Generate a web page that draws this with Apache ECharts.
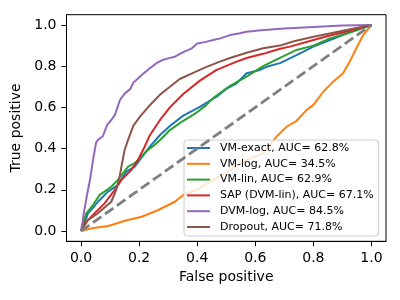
<!DOCTYPE html>
<html>
<head>
<meta charset="utf-8">
<script src="https://cdn.jsdelivr.net/npm/echarts@6/dist/echarts.min.js"></script>
<style>html,body{margin:0;padding:0;background:#fff}#c{width:400px;height:300px}</style>
</head>
<body>
<div id="c"></div>
<script>
// Tick values
var tickValues = [0, 0.2, 0.4, 0.6, 0.8, 1.0];

// Series names
var seriesNames = [
  'VM-exact, AUC= 62.8%',
  'VM-log, AUC= 34.5%',
  'VM-lin, AUC= 62.9%',
  'SAP (DVM-lin), AUC= 67.1%',
  'DVM-log, AUC= 84.5%',
  'Dropout, AUC= 71.8%'
];

// VM-exact
var fprVmExact = [0,0.01,0.024,0.04,0.058,0.093,0.127,0.156,0.185,0.219,0.237,0.272,0.306,0.352,0.409,0.467,0.5,0.536,0.57,0.616,0.639,0.685,0.742,0.8,0.857,0.914,1];
var tprVmExact = [0,0.03,0.086,0.11,0.142,0.191,0.223,0.288,0.312,0.377,0.41,0.466,0.51,0.56,0.603,0.652,0.69,0.717,0.766,0.782,0.797,0.815,0.854,0.895,0.927,0.959,1];

// VM-log
var fprVmLog = [0,0.037,0.094,0.151,0.209,0.266,0.323,0.352,0.398,0.455,0.513,0.57,0.627,0.673,0.708,0.742,0.776,0.8,0.834,0.868,0.902,0.925,0.948,0.971,1];
var tprVmLog = [0,0.013,0.024,0.05,0.069,0.102,0.142,0.175,0.199,0.248,0.296,0.345,0.377,0.458,0.506,0.535,0.587,0.612,0.676,0.725,0.766,0.822,0.887,0.951,1];

// VM-lin
var fprVmLin = [0,0.007,0.018,0.041,0.064,0.081,0.104,0.127,0.162,0.185,0.207,0.23,0.253,0.272,0.306,0.352,0.398,0.43,0.455,0.513,0.57,0.627,0.685,0.742,0.8,0.857,0.914,1];
var tprVmLin = [0,0.037,0.086,0.126,0.175,0.191,0.215,0.248,0.312,0.329,0.361,0.393,0.417,0.442,0.49,0.535,0.575,0.61,0.645,0.705,0.749,0.8,0.84,0.879,0.9,0.935,0.959,1];

// SAP (DVM-lin)
var fprSap = [0,0.013,0.047,0.081,0.116,0.139,0.173,0.196,0.219,0.237,0.272,0.306,0.352,0.409,0.467,0.536,0.57,0.627,0.685,0.719,0.8,0.86,0.914,1];
var tprSap = [0,0.037,0.086,0.134,0.199,0.248,0.296,0.345,0.409,0.465,0.539,0.6,0.665,0.73,0.782,0.822,0.84,0.86,0.885,0.895,0.927,0.95,0.968,1];

// DVM-log
var fprDvmLog = [0,0.005,0.01,0.02,0.031,0.042,0.052,0.06,0.075,0.09,0.105,0.117,0.134,0.151,0.17,0.18,0.209,0.237,0.26,0.28,0.3,0.323,0.352,0.38,0.4,0.43,0.455,0.48,0.513,0.547,0.57,0.62,0.7,0.8,0.9,1];
var tprDvmLog = [0,0.04,0.09,0.17,0.25,0.35,0.43,0.445,0.46,0.515,0.54,0.565,0.636,0.668,0.69,0.72,0.757,0.79,0.815,0.83,0.838,0.846,0.868,0.885,0.91,0.918,0.927,0.935,0.951,0.96,0.967,0.975,0.983,0.99,0.997,1];

// Dropout
var fprDropout = [0,0.024,0.058,0.104,0.121,0.133,0.139,0.15,0.162,0.18,0.203,0.232,0.272,0.306,0.34,0.386,0.432,0.478,0.513,0.57,0.627,0.685,0.73,0.8,0.86,0.914,1];
var tprDropout = [0,0.053,0.086,0.142,0.199,0.264,0.312,0.393,0.442,0.51,0.555,0.603,0.662,0.7,0.738,0.768,0.797,0.822,0.84,0.865,0.887,0.9,0.92,0.943,0.96,0.976,1];

// Chance diagonal
var chanceX = [0, 1];
var chanceY = [0, 1];

var colors = ['#1f77b4','#ff7f0e','#2ca02c','#d62728','#9467bd','#8c564b'];

function zip(xs, ys){ return xs.map(function(x,i){ return [x, ys[i]]; }); }

var curves = [
  [fprVmExact, tprVmExact],
  [fprVmLog, tprVmLog],
  [fprVmLin, tprVmLin],
  [fprSap, tprSap],
  [fprDvmLog, tprDvmLog],
  [fprDropout, tprDropout]
];

var series = curves.map(function(c, i){
  return {
    name: seriesNames[i],
    type: 'line',
    data: zip(c[0], c[1]),
    symbol: 'none',
    showSymbol: false,
    lineStyle: {color: colors[i], width: 2},
    itemStyle: {color: colors[i]},
    z: 2 + i
  };
});
series.push({
  name: 'chance',
  type: 'line',
  data: zip(chanceX, chanceY),
  symbol: 'none',
  lineStyle: {color: '#808080', width: 2.8, type: [10.3, 4.4]},
  z: 10
});

var font = 'DejaVu Sans';
function axisCommon(name, gap){
  return {
    type: 'value',
    min: -0.05,
    max: 1.05,
    splitLine: {show: false},
    axisLine: {show: true, onZero: false, lineStyle: {color: '#000', width: 1}},
    axisTick: {show: true, customValues: tickValues, length: 5, lineStyle: {color: '#000', width: 1}},
    axisLabel: {customValues: tickValues, formatter: function(v){ return v.toFixed(1); }, margin: 10, fontSize: 14, color: '#000', fontFamily: font},
    name: name,
    nameLocation: 'middle',
    nameGap: gap,
    nameTextStyle: {fontSize: 14, color: '#000', fontFamily: font}
  };
}

var chart = echarts.init(document.getElementById('c'), null, {renderer: 'canvas'});
chart.setOption({
  animation: false,
  backgroundColor: '#fff',
  textStyle: {fontFamily: font},
  grid: {left: 66.5, right: 14, top: 14.7, bottom: 58.7, show: true, borderColor: '#000', borderWidth: 1, backgroundColor: 'transparent'},
  xAxis: axisCommon('False positive', 27),
  yAxis: axisCommon('True positive', 35),
  legend: {
    orient: 'vertical',
    left: 184,
    top: 140,
    data: seriesNames,
    icon: 'rect',
    itemWidth: 23,
    itemHeight: 2,
    itemGap: 1.8,
    padding: [1, 5, 2, 3],
    backgroundColor: 'rgba(255,255,255,0.8)',
    borderColor: '#cccccc',
    borderWidth: 1,
    borderRadius: 3,
    textStyle: {fontSize: 11, color: '#000', fontFamily: font, lineHeight: 14, padding: [0, 0, 0, 5]}
  },
  series: series
});
</script>
</body>
</html>
